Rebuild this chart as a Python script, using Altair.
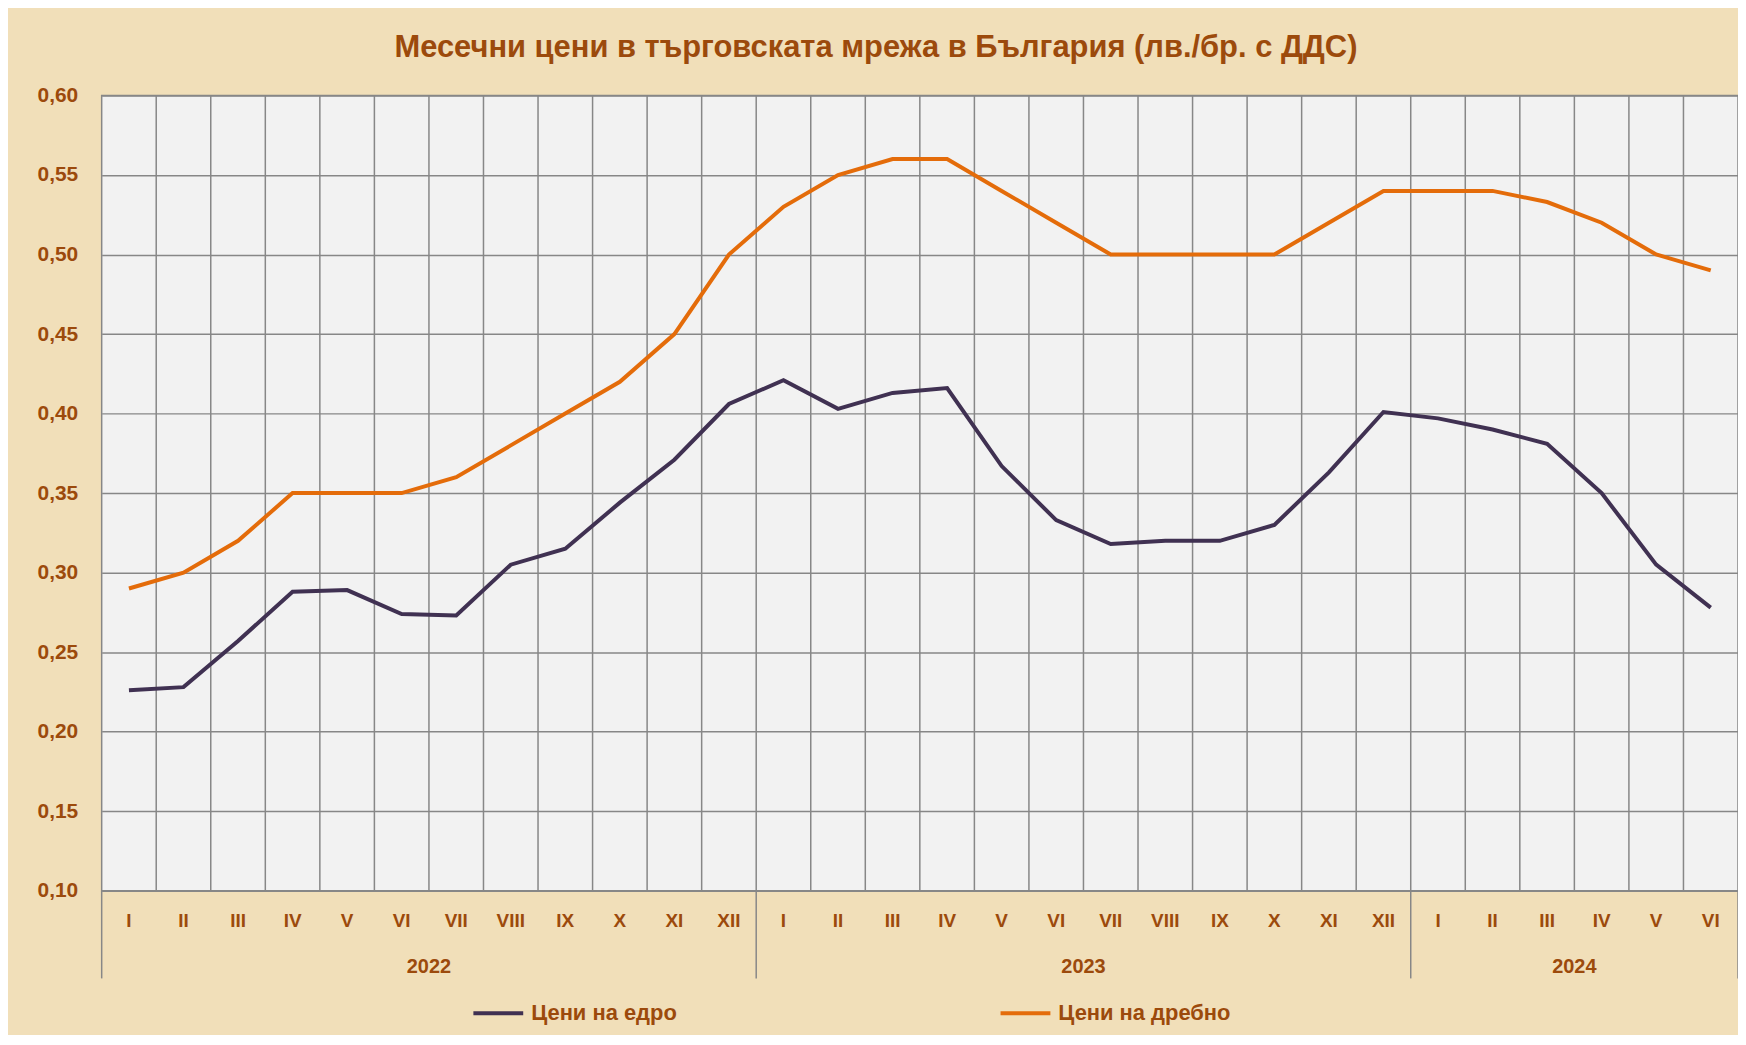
import altair as alt
import pandas as pd

# ---------------- data ----------------
months = ["I", "II", "III", "IV", "V", "VI", "VII", "VIII", "IX", "X", "XI", "XII",
          "I", "II", "III", "IV", "V", "VI", "VII", "VIII", "IX", "X", "XI", "XII",
          "I", "II", "III", "IV", "V", "VI"]
years = ["2022"] * 12 + ["2023"] * 12 + ["2024"] * 6
wholesale = [0.226, 0.228, 0.257, 0.288, 0.289, 0.274, 0.273, 0.305, 0.315, 0.344, 0.371, 0.406,
             0.421, 0.403, 0.413, 0.416, 0.367, 0.333, 0.318, 0.320, 0.320, 0.330, 0.363, 0.401,
             0.397, 0.390, 0.381, 0.350, 0.305, 0.278]
retail = [0.29, 0.30, 0.32, 0.35, 0.35, 0.35, 0.36, 0.38, 0.40, 0.42, 0.45, 0.50,
          0.53, 0.55, 0.56, 0.56, 0.54, 0.52, 0.50, 0.50, 0.50, 0.50, 0.52, 0.54,
          0.54, 0.54, 0.533, 0.52, 0.50, 0.49]
series_names = ["Цени на едро", "Цени на дребно"]
series_colors = ["#403152", "#E46C0A"]
y_ticks = [0.10, 0.15, 0.20, 0.25, 0.30, 0.35, 0.40, 0.45, 0.50, 0.55, 0.60]
title_text = "Месечни цени в търговската мрежа в България (лв./бр. с ДДС)"

# ---------------- tables ----------------
idx = list(range(len(months)))
df = pd.DataFrame({"idx": idx, "month": months, "year": years,
                   series_names[0]: wholesale, series_names[1]: retail})
long = df.melt(id_vars=["idx", "month", "year"], value_vars=series_names,
               var_name="series", value_name="price")
bounds = pd.DataFrame({"b": [i - 0.5 for i in idx[1:]]})
g = df.groupby("year")["idx"]
yr = pd.DataFrame({"year": g.min().index, "first": g.min().values, "last": g.max().values})
yr["center"] = (yr["first"] + yr["last"]) / 2
div_vals = sorted(set(list(yr["first"] - 0.5) + list(yr["last"] + 0.5)))
dividers = pd.DataFrame({"d": div_vals})

# ---------------- style ----------------
FONT = "Liberation Sans, Arial, sans-serif"
BROWN = "#9C4A0C"
GRID = "#878787"
W, H = 1642, 798

x_scale = alt.Scale(domain=[-0.5, len(months) - 0.5], nice=False, zero=False)
y_scale = alt.Scale(domain=[0.10, 0.60], nice=False, zero=False)

vgrid = alt.Chart(bounds).mark_rule(color=GRID, strokeWidth=1.5).encode(
    x=alt.X("b:Q", scale=x_scale, axis=None)
)

div = alt.Chart(dividers).mark_rule(color=GRID, strokeWidth=1.5).encode(
    x=alt.X("d:Q", scale=x_scale, axis=None),
    y=alt.value(H), y2=alt.value(H + 88)
)

mlabels = alt.Chart(df).mark_text(font=FONT, fontSize=19, fontWeight="bold",
                                  color=BROWN, baseline="middle").encode(
    x=alt.X("idx:Q", scale=x_scale, axis=None),
    y=alt.value(H + 30),
    text="month:N"
)

ylabels = alt.Chart(yr).mark_text(font=FONT, fontSize=20, fontWeight="bold",
                                  color=BROWN, baseline="middle").encode(
    x=alt.X("center:Q", scale=x_scale, axis=None),
    y=alt.value(H + 77),
    text="year:N"
)

lines = alt.Chart(long).mark_line(strokeWidth=4).encode(
    x=alt.X("idx:Q", scale=x_scale, axis=None),
    y=alt.Y("price:Q", scale=y_scale, title=None,
            axis=alt.Axis(values=y_ticks, grid=True, gridColor=GRID, gridWidth=1.5,
                          domain=False, ticks=False, labelPadding=24,
                          labelFont=FONT, labelFontSize=21, labelFontWeight="bold",
                          labelColor=BROWN,
                          labelExpr="replace(format(datum.value, '.2f'), '.', ',')")),
    color=alt.Color("series:N",
                    scale=alt.Scale(domain=series_names, range=series_colors),
                    legend=alt.Legend(orient="none", legendX=371, legendY=894,
                                      direction="horizontal", title=None,
                                      symbolType="stroke", symbolSize=2500,
                                      symbolStrokeWidth=4, labelOffset=6,
                                      columnPadding=316, padding=0, labelLimit=0,
                                      labelFont=FONT, labelFontSize=22,
                                      labelFontWeight="bold", labelColor=BROWN)),
    order="idx:Q"
)

chart = alt.layer(vgrid, div, mlabels, ylabels, lines).properties(
    width=W, height=H,
    autosize=alt.AutoSizeParams(type="none"),
    padding={"left": 94, "top": 86, "right": 0, "bottom": 143},
    background="#F1DFB9",
    title=alt.Title(title_text, font=FONT, fontSize=31, fontWeight="bold",
                    color=BROWN, anchor="middle", frame="bounds", offset=21, dx=-12)
).configure_view(fill="#F2F2F2", stroke=GRID, strokeWidth=1.5)

chart.save("out.html", embed_options={"renderer": "svg", "actions": False})
